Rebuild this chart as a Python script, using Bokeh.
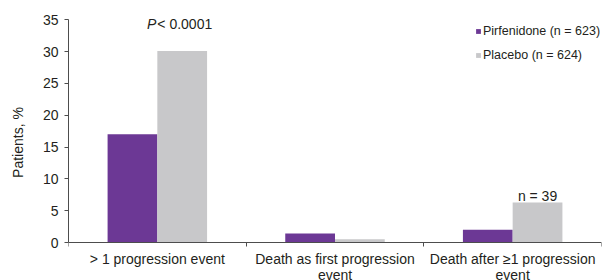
from bokeh.plotting import figure
from bokeh.models import Range1d, FixedTicker, Label, Legend, LegendItem, ColumnDataSource
from bokeh.embed import file_html
from bokeh.resources import INLINE

# ---- data ----
categories = ["> 1 progression event",
              "Death as first progression\nevent",
              "Death after \u22651 progression\nevent"]
pirfenidone = [17.0, 1.4, 2.0]
placebo = [30.1, 0.5, 6.3]
series_names = ["Pirfenidone (n = 623)", "Placebo (n = 624)"]
y_ticks = [0, 5, 10, 15, 20, 25, 30, 35]
p_value_label = "< 0.0001"
n_label = "n = 39"
n_label_category = 2

FONT = "Liberation Sans"
TXT = "#231f20"
AX = "#4d4d4d"
PURPLE = "#6c3895"
GREY = "#c8c8ca"

bar_w = 0.28
idx = list(range(len(categories)))
centers = [i + 0.5 for i in idx]
src = ColumnDataSource(dict(
    x1=[c - bar_w / 2 for c in centers],
    x2=[c + bar_w / 2 for c in centers],
    pirf=pirfenidone,
    plac=placebo,
))

# view window: headroom above 35 for the P-value text, room below 0 for category labels
y_view = (-5.97, 37.4)

p = figure(width=603, height=280,
           x_range=Range1d(0, len(categories)), y_range=Range1d(*y_view),
           output_backend="svg", toolbar_location=None,
           min_border_left=68, min_border_right=2, min_border_top=4, min_border_bottom=0)

r1 = p.vbar(x="x1", top="pirf", width=bar_w, source=src, fill_color=PURPLE, line_color=None)
r2 = p.vbar(x="x2", top="plac", width=bar_w, source=src, fill_color=GREY, line_color=None)

p.xgrid.visible = False
p.ygrid.visible = False
p.outline_line_color = None

# y axis
ya = p.yaxis[0]
ya.ticker = FixedTicker(ticks=y_ticks)
ya.bounds = (y_ticks[0], y_ticks[-1])
ya.minor_tick_line_color = None
ya.major_tick_in = 0
ya.major_tick_out = 4
ya.axis_line_color = AX
ya.major_tick_line_color = AX
ya.major_label_text_font = FONT
ya.major_label_text_font_size = "14px"
ya.major_label_text_color = TXT
ya.major_label_standoff = 6
ya.axis_label = "Patients, %"
ya.axis_label_text_font = FONT
ya.axis_label_text_font_size = "14px"
ya.axis_label_text_font_style = "normal"
ya.axis_label_text_color = TXT
ya.axis_label_standoff = 14

# x axis drawn at y = 0: category labels at centers, boundary ticks as minor ticks
xa = p.xaxis[0]
xa.fixed_location = 0
xa.ticker = FixedTicker(ticks=centers, minor_ticks=list(range(len(categories) + 1)))
xa.major_label_overrides = {c: cat for c, cat in zip(centers, categories)}
xa.major_tick_line_color = None
xa.major_tick_in = 0
xa.major_tick_out = 0
xa.minor_tick_line_color = AX
xa.minor_tick_in = 0
xa.minor_tick_out = 4
xa.axis_line_color = AX
xa.major_label_text_font = FONT
xa.major_label_text_font_size = "14px"
xa.major_label_text_color = TXT
xa.major_label_text_line_height = 1.0
xa.major_label_standoff = 4

# P value annotation above first category
p.add_layout(Label(x=centers[0], y=y_ticks[-1], x_offset=-1, y_offset=-4, text="P", text_align="right",
                   text_baseline="alphabetic", text_font=FONT, text_font_size="14px",
                   text_font_style="italic", text_color=TXT))
p.add_layout(Label(x=centers[0], y=y_ticks[-1], x_offset=0, y_offset=-4, text=p_value_label,
                   text_align="left", text_baseline="alphabetic", text_font=FONT,
                   text_font_size="14px", text_color=TXT))

# n = 39 above placebo bar
p.add_layout(Label(x=centers[n_label_category] + bar_w / 2, y=placebo[n_label_category], y_offset=6,
                   text=n_label, text_align="center", text_baseline="alphabetic",
                   text_font=FONT, text_font_size="14px", text_color=TXT))

legend = Legend(items=[LegendItem(label=series_names[0], renderers=[r1]),
                       LegendItem(label=series_names[1], renderers=[r2])],
                location=(407, 218), orientation="vertical")
legend.glyph_width = 6
legend.glyph_height = 6
legend.label_height = 14
legend.spacing = 10
legend.padding = 0
legend.margin = 0
legend.label_standoff = 2
legend.border_line_color = None
legend.background_fill_alpha = 0
legend.label_text_font = FONT
legend.label_text_font_size = "12.5px"
legend.label_text_color = TXT
p.add_layout(legend, "center")

open("out.html", "w").write(file_html(p, INLINE))
